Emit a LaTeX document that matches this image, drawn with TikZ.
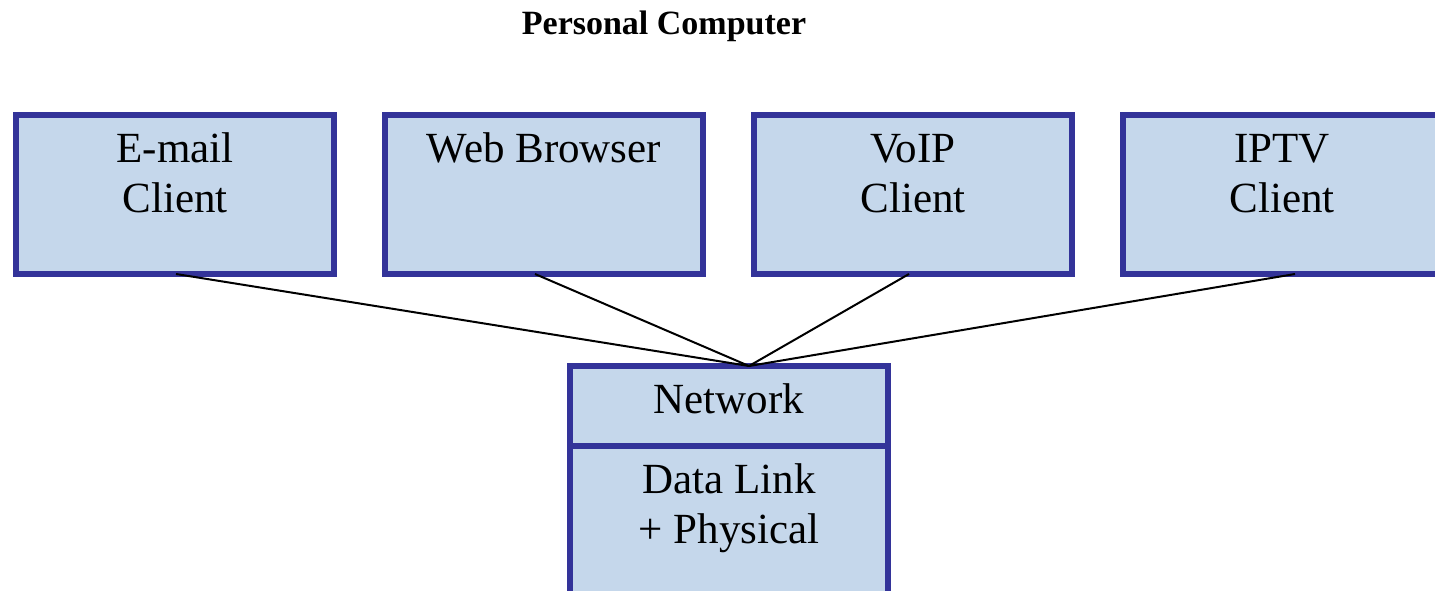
\documentclass[tikz,border=0pt]{standalone}
\usepackage{fontspec}
\setmainfont{Liberation Serif}
\usetikzlibrary{positioning}

\definecolor{layerfill}{RGB}{197,215,235}
\definecolor{layerdraw}{RGB}{51,51,153}

\begin{document}
\begin{tikzpicture}[x=0.5pt,y=0.5pt,
	layer/.style={draw=layerdraw, fill=layerfill, line width=2.75pt,
		inner sep=0pt, outer sep=0pt, minimum width=159pt, minimum height=79.5pt},
	layertext/.style={font=\fontsize{21.5pt}{25pt}\selectfont, align=center,
		anchor=base, inner sep=0pt},
	link/.style={line width=1pt}]

% frame %{{{2

	\useasboundingbox (0,0) rectangle (1435,590);
	\clip (0,0) rectangle (1435,590);

% title %{{{2

	\node[font=\fontsize{17pt}{20pt}\selectfont\bfseries, anchor=base] (title) at (664,555) {Personal Computer};

% applications %{{{2

	\node[layer] (email) at (175,395.5) {};
	\node[layer] (web)   at (544,395.5) {};
	\node[layer] (voip)  at (913,395.5) {};
	\node[layer] (iptv)  at (1282,395.5) {};

	% base anchor sits on the last line
	\node[layertext] (emailtxt) at ([yshift=-49pt]email.north) {E-mail\\Client};
	\node[layertext] (webtxt)   at ([yshift=-24pt]web.north)   {Web Browser};
	\node[layertext] (voiptxt)  at ([yshift=-49pt]voip.north)  {VoIP\\Client};
	\node[layertext] (iptvtxt)  at ([yshift=-49pt]iptv.north)  {IPTV\\Client};

% lower layers %{{{2

	\node[layer, minimum height=40pt] (net) at (729,184) {};
	\node[layer, minimum height=92pt, below=0pt of net] (datalink) {};

	\node[layertext] (nettxt)  at ([yshift=-23.5pt]net.north)      {Network};
	\node[layertext] (linktxt) at ([yshift=-48.5pt]datalink.north) {Data Link\\+ Physical};

% links %{{{2

	\coordinate (hub) at ([xshift=10pt]net.north);

	\draw[link] ([xshift=0.5pt]email.south) -- (hub);
	\draw[link] ([xshift=-4.5pt]web.south)  -- (hub);
	\draw[link] ([xshift=-2pt]voip.south)   -- (hub);
	\draw[link] ([xshift=6.5pt]iptv.south)  -- (hub);

% closing %{{{2

\end{tikzpicture}
\end{document}
